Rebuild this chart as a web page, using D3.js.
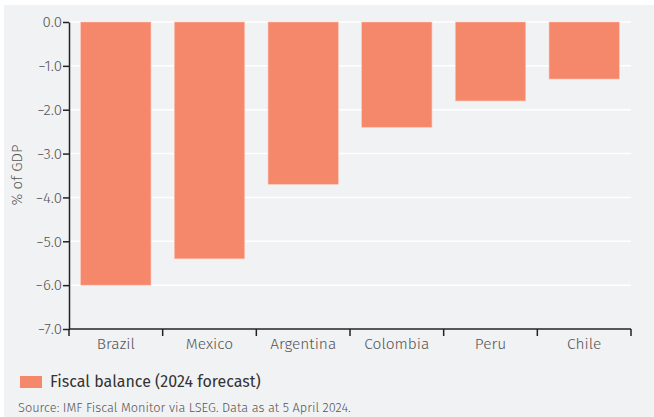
<!DOCTYPE html>
<html>
<head>
<meta charset="utf-8">
<script src="https://cdn.jsdelivr.net/npm/d3@7"></script>
<style>
  body { margin: 0; background: #fff; }
  svg text { font-family: "Fira Sans", "Noto Sans", "Open Sans", sans-serif; }
  .lt { font-weight: 300; }
</style>
</head>
<body>
<svg id="chart" width="654" height="417"></svg>
<script>
// chart data
var countries = ["Brazil", "Mexico", "Argentina", "Colombia", "Peru", "Chile"];
var balance = [-6.0, -5.4, -3.7, -2.4, -1.8, -1.3];
var yTicks = [0, -1, -2, -3, -4, -5, -6, -7];

var margin = {top: 22, right: 23, bottom: 88, left: 69};
var width = 654 - margin.left - margin.right;
var height = 417 - margin.top - margin.bottom;

var svg = d3.select("#chart");

// panel background
svg.append("rect")
    .attr("x", 4).attr("y", 5)
    .attr("width", 650).attr("height", 412)
    .attr("fill", "#f1f2f4");

var x = d3.scaleBand().domain(countries).range([0, width])
    .paddingInner(0.25).paddingOuter(0.125);
var y = d3.scaleLinear().domain([0, -7]).range([0, height]);

var g = svg.append("g")
    .attr("transform", "translate(" + margin.left + "," + margin.top + ")");

// grid
g.selectAll(".grid").data(yTicks)
  .enter().append("line")
    .attr("class", "grid")
    .attr("x1", 0).attr("x2", width)
    .attr("y1", function(d) { return y(d); })
    .attr("y2", function(d) { return y(d); })
    .attr("stroke", "#fff")
    .attr("stroke-width", 1.5);

// bars
g.selectAll(".bar").data(countries)
  .enter().append("rect")
    .attr("class", "bar")
    .attr("x", function(d) { return x(d); })
    .attr("y", y(0))
    .attr("width", x.bandwidth())
    .attr("height", function(d, i) { return y(balance[i]) - y(0); })
    .attr("fill", "#f5876a")
    .attr("stroke", "#fbc3b3")
    .attr("stroke-width", 0.6);

// y axis
var yAxis = g.append("g")
    .call(d3.axisLeft(y).tickValues(yTicks).tickFormat(d3.format(".1f")).tickSize(6).tickSizeOuter(0));
yAxis.select(".domain").attr("stroke", "#222").attr("stroke-width", 1.5);
yAxis.selectAll(".tick line").attr("stroke", "#222").attr("stroke-width", 1.5);
yAxis.selectAll("text")
    .attr("class", "lt")
    .attr("fill", "#555")
    .style("font-size", "15px")
    .attr("x", -7);

// x axis with ticks at band boundaries
var xAxisG = g.append("g").attr("transform", "translate(0," + height + ")");
xAxisG.append("line")
    .attr("x1", 0).attr("x2", width)
    .attr("stroke", "#222").attr("stroke-width", 1.5);
var bounds = countries.map(function(d) { return x(d) - x.step() * x.paddingInner() / 2; });
bounds.push(width);
xAxisG.selectAll(".xtick").data(bounds)
  .enter().append("line")
    .attr("x1", function(d) { return d; })
    .attr("x2", function(d) { return d; })
    .attr("y1", 0).attr("y2", 7)
    .attr("stroke", "#222").attr("stroke-width", 1.5);
xAxisG.selectAll(".xlabel").data(countries)
  .enter().append("text")
    .attr("class", "lt")
    .attr("x", function(d) { return x(d) + x.bandwidth() / 2; })
    .attr("y", 20)
    .attr("text-anchor", "middle")
    .attr("fill", "#555")
    .style("font-size", "15.5px")
    .text(function(d) { return d; });

// y axis title
svg.append("text")
    .attr("class", "lt")
    .attr("transform", "translate(22,175) rotate(-90)")
    .attr("text-anchor", "middle")
    .attr("fill", "#555")
    .style("font-size", "15px")
    .text("% of GDP");

// legend
svg.append("rect")
    .attr("x", 20).attr("y", 376)
    .attr("width", 22).attr("height", 12)
    .attr("fill", "#f5876a");
svg.append("text")
    .attr("x", 50).attr("y", 387)
    .attr("fill", "#333")
    .style("font-size", "16px")
    .text("Fiscal balance (2024 forecast)");

// source
svg.append("text")
    .attr("class", "lt")
    .attr("x", 18).attr("y", 412)
    .attr("fill", "#555")
    .style("font-size", "12.8px")
    .text("Source: IMF Fiscal Monitor via LSEG. Data as at 5 April 2024.");
</script>
</body>
</html>
